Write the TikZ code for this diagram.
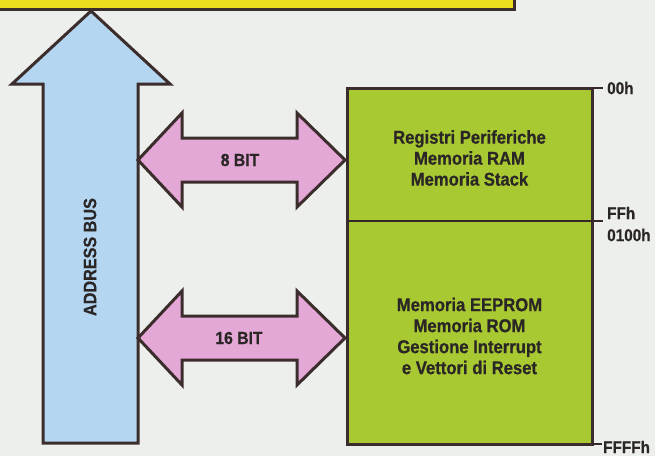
\documentclass[tikz,border=0pt]{standalone}
\usepackage{fontspec}
\setmainfont{Liberation Sans}[FakeStretch=0.9,BoldFeatures={FakeBold=0.6}]
\usepackage{tikz}
\usetikzlibrary{positioning}
\definecolor{inchiostro}{HTML}{3C2D2D}
\definecolor{sfondo}{HTML}{EDEFEC}
\definecolor{giallo}{HTML}{EEDC1E}
\definecolor{azzurro}{HTML}{B4D6F0}
\definecolor{rosa}{HTML}{E4A8D6}
\definecolor{verde}{HTML}{A8C932}
\definecolor{testo}{HTML}{2B2626}
\tikzset{
  bordo/.style={draw=inchiostro,line width=3pt,line join=miter},
  sottile/.style={draw=inchiostro!90!black,line width=1.6pt},
  memoria/.style={fill=verde,minimum width=245pt,inner sep=0pt,outer sep=0pt},
  testomem/.style={align=center,inner sep=0pt,
    font=\bfseries\fontsize{18.5}{21}\selectfont,text=testo},
  etichetta/.style={font=\bfseries\fontsize{17.5}{20}\selectfont,text=testo,inner sep=0pt},
  indirizzo/.style={etichetta,font=\bfseries\fontsize{17}{20}\selectfont,anchor=west},
}

\begin{document}
\begin{tikzpicture}[x=1pt,y=-1pt,
  bus/.style={bordo,fill=azzurro},
  dato/.style={bordo,fill=rosa}]
  \fill[sfondo] (0,0) rectangle (655,456);
  \useasboundingbox (0,0) rectangle (655,456);
  \clip (0,0) rectangle (655,456);
  % blocco giallo in alto (tagliato)
  \draw[bordo,fill=giallo] (-10,-30) rectangle (514,9);
  % address bus
  \draw[bus] (91,11) -- (170,84) -- (138,84) -- (138,443) -- (43,443) -- (43,84) -- (12,84) -- cycle;
  \node[etichetta,rotate=90,font=\bfseries\fontsize{18}{20}\selectfont] (addr) at (90,257) {ADDRESS BUS};
  % bus dati
  \draw[dato] (138,160) -- (182,113) -- (182,138) -- (297,138) -- (297,113) -- (345,160)
    -- (297,207) -- (297,182) -- (182,182) -- (182,207) -- cycle;
  \node[etichetta] (otto) at (240,160) {8 BIT};
  \draw[dato] (138,338) -- (182,291) -- (182,316) -- (297,316) -- (297,291) -- (345,338)
    -- (297,385) -- (297,360) -- (182,360) -- (182,385) -- cycle;
  \node[etichetta] (sedici) at (239,338) {16 BIT};
  % mappa di memoria
  \node[memoria,minimum height=133pt] (ram) at (469.5,154.5) {};
  \node[memoria,minimum height=223pt,below=0pt of ram] (rom) {};
  \node[testomem] (tram) at ([yshift=-3.5pt]ram.center)
    {Registri Periferiche\\Memoria RAM\\Memoria Stack};
  \node[testomem] (trom) at ([yshift=-3.5pt]rom.center)
    {Memoria EEPROM\\Memoria ROM\\Gestione Interrupt\\e Vettori di Reset};
  \draw[bordo] (ram.north west) rectangle (rom.south east);
  \draw[sottile] (ram.south west) -- ([xshift=11pt]ram.south east);
  \draw[sottile] (ram.north east) -- ([xshift=11pt]ram.north east);
  \draw[sottile] (rom.south east) -- ([xshift=10pt]rom.south east);
  \node[indirizzo] (a00) at (607,88) {00h};
  \node[indirizzo] (aFF) at (607,213) {FFh};
  \node[indirizzo] (a0100) at (607,235) {0100h};
  \node[indirizzo] (aFFFF) at (603,447) {FFFFh};
\end{tikzpicture}
\end{document}
